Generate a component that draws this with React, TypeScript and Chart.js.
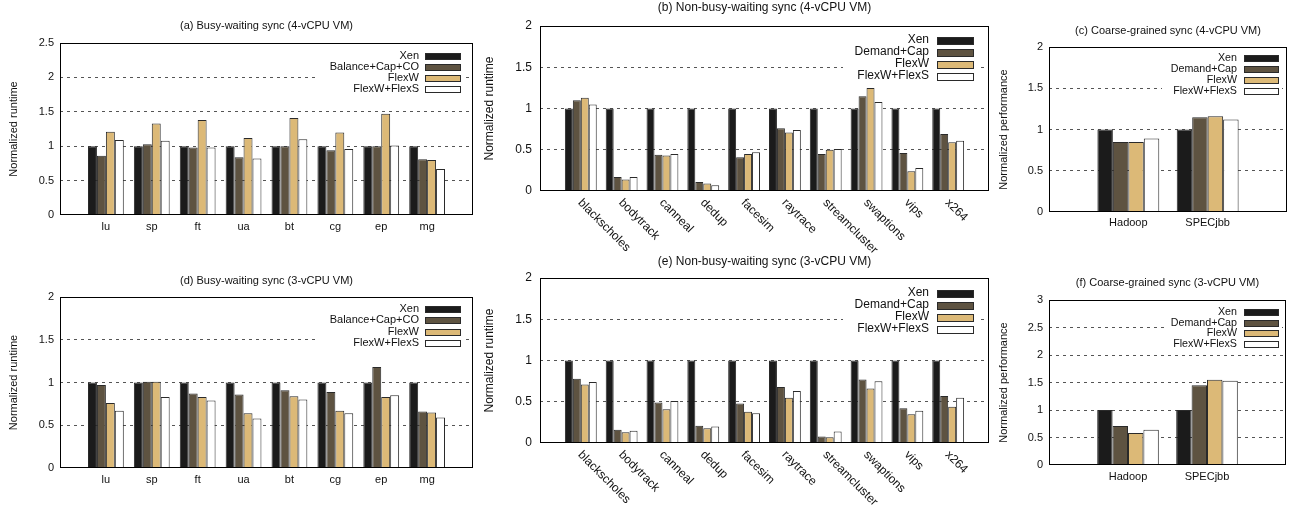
import React, { useEffect, useRef } from 'react';
import { Chart, registerables } from 'chart.js';

Chart.register(...registerables);

const FONT = '"Liberation Sans", Arial, Helvetica, sans-serif';
Chart.defaults.font.family = FONT;
Chart.defaults.color = '#111';

// ---------- data ----------
const SERIES_BUSY = ['Xen', 'Balance+Cap+CO', 'FlexW', 'FlexW+FlexS'];
const SERIES_DEMAND = ['Xen', 'Demand+Cap', 'FlexW', 'FlexW+FlexS'];

const NPB = ['lu', 'sp', 'ft', 'ua', 'bt', 'cg', 'ep', 'mg'];
const PARSEC = ['blackscholes', 'bodytrack', 'canneal', 'dedup', 'facesim', 'raytrace', 'streamcluster', 'swaptions', 'vips', 'x264'];
const APPS = ['Hadoop', 'SPECjbb'];

// (a) busy-waiting, 4 vCPU
const aXen = [1, 1, 1, 1, 1, 1, 1, 1];
const aBal = [0.86, 1.03, 0.98, 0.84, 1.0, 0.94, 1.0, 0.81];
const aFlexW = [1.21, 1.33, 1.38, 1.12, 1.41, 1.2, 1.47, 0.8];
const aFlexS = [1.09, 1.08, 0.98, 0.82, 1.1, 0.96, 1.01, 0.67];

// (b) non-busy-waiting, 4 vCPU
const bXen = [1, 1, 1, 1, 1, 1, 1, 1, 1, 1];
const bDem = [1.1, 0.17, 0.44, 0.11, 0.41, 0.76, 0.45, 1.15, 0.46, 0.69];
const bFlexW = [1.13, 0.14, 0.43, 0.09, 0.45, 0.71, 0.5, 1.25, 0.24, 0.59];
const bFlexS = [1.05, 0.17, 0.45, 0.07, 0.47, 0.74, 0.51, 1.08, 0.28, 0.61];

// (c) coarse-grained, 4 vCPU
const cXen = [1, 1];
const cDem = [0.85, 1.15];
const cFlexW = [0.85, 1.16];
const cFlexS = [0.89, 1.12];

// (d) busy-waiting, 3 vCPU
const dXen = [1, 1, 1, 1, 1, 1, 1, 1];
const dBal = [0.97, 1.01, 0.87, 0.86, 0.91, 0.89, 1.18, 0.66];
const dFlexW = [0.76, 1.01, 0.83, 0.64, 0.84, 0.67, 0.83, 0.65];
const dFlexS = [0.67, 0.83, 0.79, 0.58, 0.8, 0.64, 0.85, 0.59];

// (e) non-busy-waiting, 3 vCPU
const eXen = [1, 1, 1, 1, 1, 1, 1, 1, 1, 1];
const eDem = [0.78, 0.16, 0.49, 0.21, 0.48, 0.68, 0.08, 0.77, 0.42, 0.57];
const eFlexW = [0.71, 0.13, 0.41, 0.18, 0.38, 0.55, 0.07, 0.66, 0.35, 0.44];
const eFlexS = [0.74, 0.15, 0.51, 0.2, 0.36, 0.63, 0.14, 0.75, 0.39, 0.55];

// (f) coarse-grained, 3 vCPU
const fXen = [1, 1];
const fDem = [0.71, 1.45];
const fFlexW = [0.58, 1.55];
const fFlexS = [0.64, 1.53];

// ---------- styles ----------
const COLORS = ['#1b1b1b', '#5e5341', '#dcb977', '#ffffff'];
const BAR_BORDER = '#2a2a2a';

type Legend = { box: [number, number, number, number]; textRight: number; swLeft: number; swW: number; swH: number; y0: number; dy: number; font: number };
type Panel = {
  title: string;
  cats: string[];
  series: string[];
  values: number[][];
  yMax: number;
  yTitle: string;
  canvas: { x: number; y: number; w: number; h: number };
  plot: { l: number; t: number; r: number; b: number };
  titleY: number;
  font: number;
  titleFont: number;
  yTitlePad: number;
  tickPad: number;
  xLabelPad: number;
  rotated: boolean;
  legend: Legend;
};

const PANELS: Panel[] = [
  {
    title: '(a) Busy-waiting sync (4-vCPU VM)', cats: NPB, series: SERIES_BUSY,
    values: [aXen, aBal, aFlexW, aFlexS], yMax: 2.5, yTitle: 'Normalized runtime',
    canvas: { x: 0, y: 0, w: 478, h: 250 }, plot: { l: 60, t: 43, r: 473, b: 215 },
    titleY: 26, font: 11, titleFont: 11, yTitlePad: 7, tickPad: 6, xLabelPad: 5, rotated: false,
    legend: { box: [318, 47, 465, 95], textRight: 419, swLeft: 425, swW: 35, swH: 6, y0: 56, dy: 11, font: 11 },
  },
  {
    title: '(b) Non-busy-waiting sync (4-vCPU VM)', cats: PARSEC, series: SERIES_DEMAND,
    values: [bXen, bDem, bFlexW, bFlexS], yMax: 2, yTitle: 'Normalized runtime',
    canvas: { x: 478, y: 0, w: 516, h: 262 }, plot: { l: 540, t: 26, r: 989, b: 191 },
    titleY: 8, font: 12, titleFont: 12, yTitlePad: 4, tickPad: 8, xLabelPad: 5, rotated: true,
    legend: { box: [843, 30, 979, 84], textRight: 929, swLeft: 937, swW: 36, swH: 7, y0: 40, dy: 12, font: 12 },
  },
  {
    title: '(c) Coarse-grained sync (4-vCPU VM)', cats: APPS, series: SERIES_DEMAND,
    values: [cXen, cDem, cFlexW, cFlexS], yMax: 2, yTitle: 'Normalized performance',
    canvas: { x: 994, y: 0, w: 297, h: 250 }, plot: { l: 1049, t: 47, r: 1290, b: 212 },
    titleY: 31, font: 11, titleFont: 11, yTitlePad: 3, tickPad: 6, xLabelPad: 4, rotated: false,
    legend: { box: [1162, 50, 1282, 98], textRight: 1237, swLeft: 1244, swW: 34, swH: 6, y0: 58, dy: 11, font: 10.7 },
  },
  {
    title: '(d) Busy-waiting sync (3-vCPU VM)', cats: NPB, series: SERIES_BUSY,
    values: [dXen, dBal, dFlexW, dFlexS], yMax: 2, yTitle: 'Normalized runtime',
    canvas: { x: 0, y: 250, w: 478, h: 257 }, plot: { l: 60, t: 297, r: 473, b: 468 },
    titleY: 31, font: 11, titleFont: 11, yTitlePad: 7, tickPad: 6, xLabelPad: 5, rotated: false,
    legend: { box: [318, 300, 465, 350], textRight: 419, swLeft: 425, swW: 35, swH: 6, y0: 309, dy: 11.3, font: 11 },
  },
  {
    title: '(e) Non-busy-waiting sync (3-vCPU VM)', cats: PARSEC, series: SERIES_DEMAND,
    values: [eXen, eDem, eFlexW, eFlexS], yMax: 2, yTitle: 'Normalized runtime',
    canvas: { x: 478, y: 250, w: 516, h: 257 }, plot: { l: 540, t: 278, r: 989, b: 443 },
    titleY: 12, font: 12, titleFont: 12, yTitlePad: 4, tickPad: 8, xLabelPad: 5, rotated: true,
    legend: { box: [843, 283, 979, 337], textRight: 929, swLeft: 937, swW: 36, swH: 7, y0: 293, dy: 12, font: 12 },
  },
  {
    title: '(f) Coarse-grained sync (3-vCPU VM)', cats: APPS, series: SERIES_DEMAND,
    values: [fXen, fDem, fFlexW, fFlexS], yMax: 3, yTitle: 'Normalized performance',
    canvas: { x: 994, y: 250, w: 297, h: 257 }, plot: { l: 1049, t: 300, r: 1290, b: 465 },
    titleY: 33, font: 11, titleFont: 11, yTitlePad: 3, tickPad: 6, xLabelPad: 5, rotated: false,
    legend: { box: [1165, 303, 1282, 350], textRight: 1237, swLeft: 1244, swW: 34, swH: 6, y0: 312, dy: 10.7, font: 10.7 },
  },
];

function buildChart(canvas: HTMLCanvasElement, p: Panel) {
  const labels = ['', ...p.cats, ''];
  const datasets = p.series.map((name, i) => ({
    label: name,
    data: [null, ...p.values[i], null],
    backgroundColor: COLORS[i],
    borderColor: BAR_BORDER,
    borderWidth: 1,
    categoryPercentage: 0.78,
    barPercentage: 1,
  }));
  const cx = p.canvas.x;
  const cy = p.canvas.y;

  const decor = {
    id: 'decor',
    afterDatasetsDraw(chart: any) {
      const ctx = chart.ctx as CanvasRenderingContext2D;
      const a = chart.chartArea;
      // legend (white box hides grid lines)
      const lg = p.legend;
      ctx.save();
      ctx.fillStyle = '#ffffff';
      ctx.fillRect(lg.box[0] - cx, lg.box[1] - cy, lg.box[2] - lg.box[0], lg.box[3] - lg.box[1]);
      ctx.font = `${lg.font}px ${FONT}`;
      ctx.textAlign = 'right';
      ctx.textBaseline = 'middle';
      p.series.forEach((name, i) => {
        const y = lg.y0 + i * lg.dy - cy;
        ctx.fillStyle = '#111';
        ctx.fillText(name, lg.textRight - cx, y);
        const sx = Math.round(lg.swLeft - cx) + 0.5;
        const sy = Math.round(y - lg.swH / 2) + 0.5;
        ctx.fillStyle = COLORS[i];
        ctx.fillRect(sx, sy, lg.swW, lg.swH);
        ctx.strokeStyle = BAR_BORDER;
        ctx.lineWidth = 1;
        ctx.strokeRect(sx, sy, lg.swW, lg.swH);
      });
      // frame
      ctx.strokeStyle = '#000';
      ctx.lineWidth = 1;
      ctx.strokeRect(Math.round(a.left) + 0.5, Math.round(a.top) + 0.5, Math.round(a.right - a.left) - 1, Math.round(a.bottom - a.top) - 1);
      // title
      ctx.fillStyle = '#111';
      ctx.font = `${p.titleFont}px ${FONT}`;
      ctx.textAlign = 'center';
      ctx.textBaseline = 'middle';
      ctx.fillText(p.title, (a.left + a.right) / 2, p.titleY);
      // rotated category labels
      if (p.rotated) {
        const xs = chart.scales.x;
        ctx.font = `${p.font}px ${FONT}`;
        ctx.textAlign = 'left';
        ctx.textBaseline = 'middle';
        p.cats.forEach((c, i) => {
          const x = xs.getPixelForValue(i + 1);
          ctx.save();
          ctx.translate(x - 1, a.bottom + 10);
          ctx.rotate(Math.PI / 4);
          ctx.fillText(c, 0, 0);
          ctx.restore();
        });
      }
      ctx.restore();
    },
  };

  return new Chart(canvas, {
    type: 'bar',
    data: { labels, datasets: datasets as any },
    plugins: [decor],
    options: {
      responsive: false,
      animation: false,
      devicePixelRatio: 1,
      layout: {
        padding: { left: 0, top: p.plot.t - cy, right: cx + p.canvas.w - p.plot.r, bottom: 0 },
      },
      plugins: {
        legend: { display: false },
        tooltip: { enabled: false },
        title: { display: false },
      },
      scales: {
        x: {
          type: 'category',
          offset: false,
          grid: { display: false, drawTicks: false },
          border: { display: false },
          ticks: {
            display: !p.rotated,
            autoSkip: false,
            maxRotation: 0,
            minRotation: 0,
            padding: p.xLabelPad,
            font: { size: p.font },
            color: '#111',
          },
          afterFit: (s: any) => { s.height = cy + p.canvas.h - p.plot.b; },
        },
        y: {
          min: 0,
          max: p.yMax,
          grid: {
            drawTicks: false,
            lineWidth: 1,
            color: (c: any) => (c.tick && (c.tick.value === 0 || c.tick.value === p.yMax) ? 'rgba(0,0,0,0)' : '#555'),
          },
          border: { display: false, dash: [3, 4] },
          ticks: {
            stepSize: 0.5,
            padding: p.tickPad,
            font: { size: p.font },
            color: '#111',
            callback: (v: any) => String(Number(v)),
          },
          title: { display: true, text: p.yTitle, font: { size: p.font }, color: '#111', padding: { top: p.yTitlePad, bottom: 0 } },
          afterFit: (s: any) => { s.width = p.plot.l - cx; },
        },
      },
    } as any,
  });
}

function PanelChart({ p }: { p: Panel }) {
  const ref = useRef<HTMLCanvasElement>(null);
  useEffect(() => {
    if (!ref.current) return;
    const ch = buildChart(ref.current, p);
    return () => ch.destroy();
  }, [p]);
  return (
    <canvas
      ref={ref}
      width={p.canvas.w}
      height={p.canvas.h}
      style={{ position: 'absolute', left: p.canvas.x, top: p.canvas.y, width: p.canvas.w, height: p.canvas.h }}
    />
  );
}

export default function App() {
  return (
    <div style={{ position: 'absolute', left: 0, top: 0, width: 1291, height: 507, background: '#fff', overflow: 'hidden' }}>
      {PANELS.map((p, i) => (
        <PanelChart key={i} p={p} />
      ))}
    </div>
  );
}
